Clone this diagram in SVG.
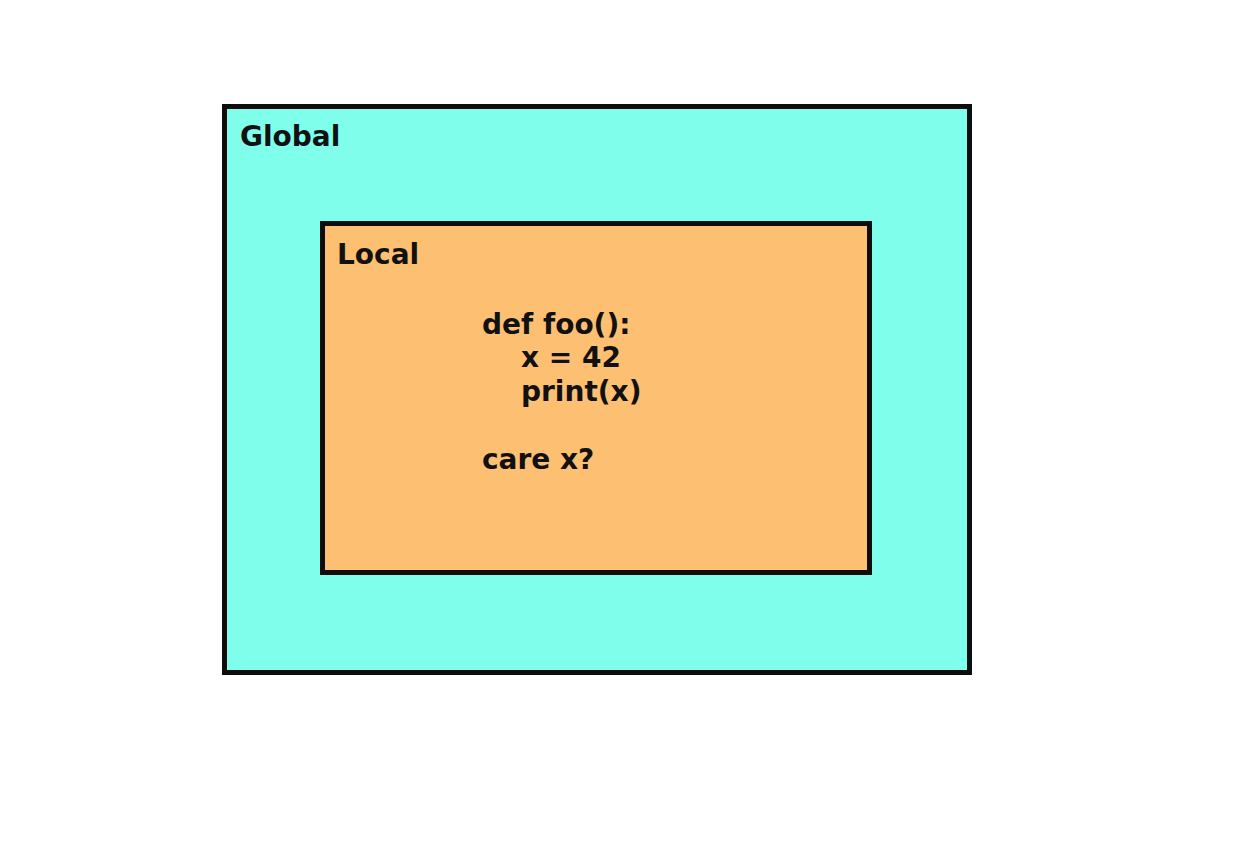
<svg xmlns="http://www.w3.org/2000/svg" width="1236" height="864" viewBox="0 0 1236 864">
<style>
.box{stroke:#0d0d0d;stroke-width:5}
.t{font-family:"DejaVu Sans",sans-serif;font-weight:bold;font-size:28px;fill:#111}
</style>
<rect width="1236" height="864" fill="#ffffff"/>
<g id="global">
<rect class="box" x="224.500" y="106.500" width="745" height="566" fill="#7ffeec"/>
<text class="t" x="240" y="146">Global</text>
</g>
<g id="local">
<rect class="box" x="322.500" y="223.500" width="547" height="349" fill="#fdbf72"/>
<text class="t" x="337" y="264">Local</text>
<text class="t" x="482" y="334">def foo():</text>
<text class="t" x="521" y="367">x = 42</text>
<text class="t" x="521" y="401">print(x)</text>
<text class="t" x="482" y="469">care x?</text>
</g>
<g id="connectors"/>
</svg>
